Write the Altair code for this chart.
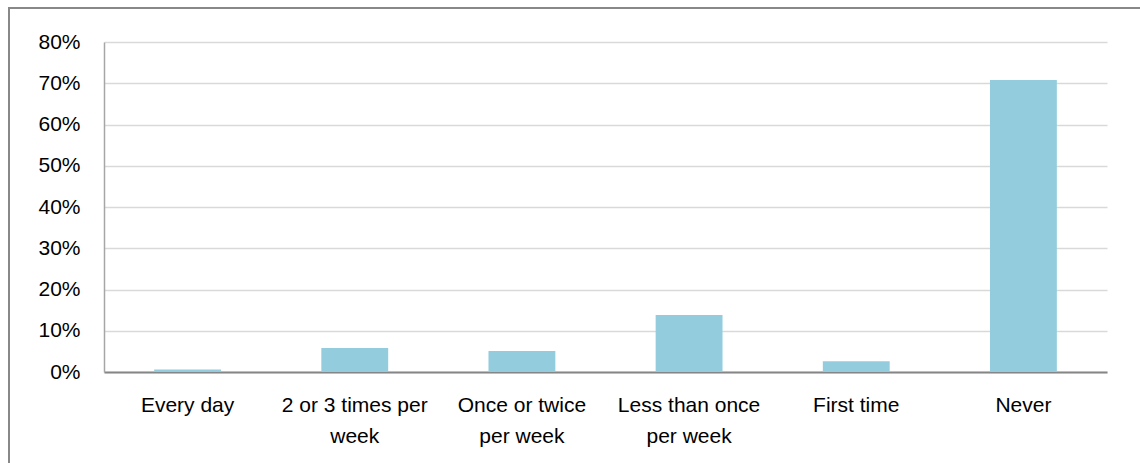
import altair as alt
import pandas as pd

categories = ["Every day", "2 or 3 times per week", "Once or twice per week",
              "Less than once per week", "First time", "Never"]
label_lines = [["Every day"], ["2 or 3 times per", "week"], ["Once or twice", "per week"],
               ["Less than once", "per week"], ["First time"], ["Never"]]
values = [0.006, 0.058, 0.051, 0.138, 0.026, 0.708]
y_ticks = [0, 0.1, 0.2, 0.3, 0.4, 0.5, 0.6, 0.7, 0.8]

df = pd.DataFrame({"category": categories, "value": values})

expr_parts = []
for c, lines in zip(categories, label_lines):
    arr = "[" + ",".join("'" + l + "'" for l in lines) + "]"
    expr_parts.append(f"datum.label == '{c}' ? {arr}")
label_expr = " : ".join(expr_parts) + " : datum.label"

FONT = "Liberation Sans"
W, H = 1003, 330

bars = alt.Chart(df).mark_bar(color="#93CDDD").encode(
    x=alt.X("category:N", sort=categories,
            scale=alt.Scale(paddingInner=0.6, paddingOuter=0.3),
            axis=alt.Axis(title=None, labelAngle=0, labelExpr=label_expr,
                          labelFont=FONT, labelFontSize=21, labelColor="#000000",
                          labelLineHeight=31, labelPadding=22, ticks=False,
                          domainColor="#868686", domainWidth=2, grid=False,
                          labelBaseline="top")),
    y=alt.Y("value:Q", scale=alt.Scale(domain=[0, 0.8], nice=False),
            axis=alt.Axis(title=None, format=".0%", values=y_ticks,
                          labelFont=FONT, labelFontSize=21, labelColor="#000000",
                          labelPadding=24, ticks=False, domainColor="#A6A6A6",
                          domainWidth=1.5, gridColor="#D9D9D9", gridWidth=1.5)),
)

border = alt.Chart(pd.DataFrame({"k": [0]})).mark_rect(
    fill=None, stroke="#888888", strokeWidth=2
).encode(
    x=alt.value(-95), x2=alt.value(W + 60),
    y=alt.value(-34), y2=alt.value(H + 120),
)

chart = alt.layer(bars, border).properties(
    width=W, height=H,
    autosize=alt.AutoSizeParams(type="none"),
    padding={"left": 104, "top": 42, "right": 33, "bottom": 91},
    background="white",
).configure_view(stroke=None)

chart.save("out.html", embed_options={"renderer": "svg", "actions": False})
